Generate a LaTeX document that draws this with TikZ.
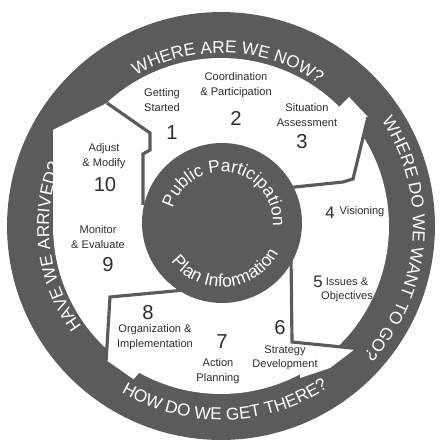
\documentclass[tikz,border=0pt]{standalone}
\usepackage{fontspec}
\setmainfont{Liberation Sans}
\usepackage{tikz}
\usetikzlibrary{decorations.text}
\definecolor{ringgray}{HTML}{5B5B5B}
\definecolor{inkgray}{HTML}{2E2E2E}

\begin{document}
\begin{tikzpicture}[
    x=0.02cm, y=-0.02cm,
    divider/.style={draw=ringgray, line width=1.8pt, line join=miter},
    stage/.style={text=inkgray, font=\fontsize{6.3}{8.2}\selectfont, align=center, inner sep=0pt},
    num/.style={text=inkgray, font=\fontsize{11.5}{12}\selectfont, inner sep=0pt},
    smallnum/.style={text=inkgray, font=\fontsize{9.5}{10}\selectfont, inner sep=0pt},
    ringtext/.style={decorate, decoration={text along path, text align=center, text color=white,
        text={|\fontsize{9.8}{10}\selectfont|#1}}},
    hubtext/.style={decorate, decoration={text along path, text align=center, text color=white,
        text={|\fontsize{10}{11}\selectfont|#1}}}
]
\useasboundingbox (0,0) rectangle (444,445);

\fill[ringgray] (221,226) circle[radius=4.28cm];
\fill[white] (221,226) circle[radius=3.36cm];
\fill[white] (53,226) -- (53,130) -- (107,103) -- (150,133) -- (150,226) -- cycle;
\fill[white] (330,110) -- (338,108) -- (349,97) -- (368,117) -- (353,179) -- (330,150) -- cycle;
\fill[white] (300,345) -- (355,349) -- (330,368) -- (300,378) -- cycle;
\fill[white] (110,330) -- (106,362) -- (133,380) -- (150,360) -- cycle;

\draw[divider] (107,103) -- (150,133) -- (150,150) -- (143,154) -- (143,205);
\draw[divider] (368,117) -- (353,179) -- (343,182) -- (285,188);
\draw[divider] (291,255) -- (292,342) -- (362,349);
\draw[divider] (185,290) -- (110,297) -- (106,362) -- (133,381);

\fill[ringgray] (222,223) circle[radius=1.6cm];

\begin{scope}[shift={(221,226)}, y=0.02cm]
    \path[ringtext={WHERE ARE WE NOW?}] (147.5:173) arc[start angle=147.5, end angle=27.5, radius=173];
    \path[ringtext={WHERE DO WE WANT TO GO?}] (55.6:192) arc[start angle=55.6, end angle=-64.4, radius=192];
    \path[ringtext={HOW DO WE GET THERE?}] (211.3:194) arc[start angle=211.3, end angle=331.3, radius=194];
    \path[ringtext={HAVE WE ARRIVED?}] (247.5:172) arc[start angle=247.5, end angle=127.5, radius=172];
\end{scope}

\begin{scope}[shift={(222,223)}, y=0.02cm]
    \path[hubtext={Public Participation}] (185:51) arc[start angle=185, end angle=-25, radius=51];
    \path[hubtext={Plan Information}] (174.5:64) arc[start angle=174.5, end angle=374.5, radius=64];
\end{scope}

\node[stage] (getting) at (162,100) {Getting\\Started};
\node[num] (n1) at (172,133) {1};
\node[stage] (coord) at (236,85) {Coordination\\\& Participation};
\node[num] (n2) at (236,118) {2};
\node[stage] (situation) at (307,115) {Situation\\Assessment};
\node[num] (n3) at (302,142) {3};
\node[smallnum] (n4) at (330,213) {4};
\node[stage] (vision) at (362,212) {Visioning};
\node[smallnum] (n5) at (318,282) {5};
\node[stage] (issues) at (347,290) {Issues \&\\Objectives};
\node[num] (n6) at (280,328) {6};
\node[stage] (strategy) at (285,358) {Strategy\\Development};
\node[num] (n7) at (222,342) {7};
\node[stage] (action) at (218,371) {Action\\Planning};
\node[num] (n8) at (148,313) {8};
\node[stage] (organize) at (155,337) {Organization \&\\Implementation};
\node[stage] (monitor) at (98,237) {Monitor\\\& Evaluate};
\node[num] (n9) at (108,265) {9};
\node[stage] (adjust) at (104,156) {Adjust\\\& Modify};
\node[num] (n10) at (105,185) {10};
\end{tikzpicture}
\end{document}
